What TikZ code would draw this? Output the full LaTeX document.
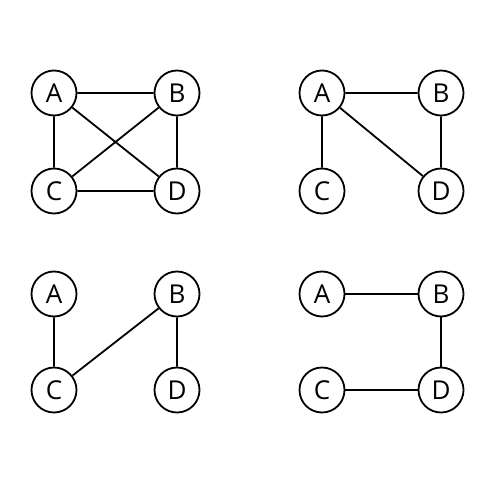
\documentclass[tikz,border=0pt]{standalone}
\usepackage{fontspec}
\setmainfont{Open Sans}
\begin{document}
\begin{tikzpicture}[x=1pt,y=-1pt,
  vtx/.style={circle,draw,line width=1.8pt,minimum size=45pt,inner sep=0pt,font=\fontsize{26}{26}\selectfont,fill=white},
  edge/.style={line width=1.8pt}]
\useasboundingbox (0,0) rectangle (500,500);
% graph 1
\node[vtx] (a1) at (54,93) {A};
\node[vtx] (b1) at (177,93) {B};
\node[vtx] (c1) at (54,191) {C};
\node[vtx] (d1) at (177,191) {D};
\draw[edge] (a1)--(b1) (a1)--(c1) (a1)--(d1) (b1)--(c1) (b1)--(d1) (c1)--(d1);
% graph 2
\node[vtx] (a2) at (322,93) {A};
\node[vtx] (b2) at (441,93) {B};
\node[vtx] (c2) at (322,191) {C};
\node[vtx] (d2) at (441,191) {D};
\draw[edge] (a2)--(b2) (a2)--(c2) (a2)--(d2) (b2)--(d2);
% graph 3
\node[vtx] (a3) at (54,294) {A};
\node[vtx] (b3) at (177,294) {B};
\node[vtx] (c3) at (54,390) {C};
\node[vtx] (d3) at (177,390) {D};
\draw[edge] (a3)--(c3) (c3)--(b3) (b3)--(d3);
% graph 4
\node[vtx] (a4) at (322,294) {A};
\node[vtx] (b4) at (441,294) {B};
\node[vtx] (c4) at (322,390) {C};
\node[vtx] (d4) at (441,390) {D};
\draw[edge] (a4)--(b4) (b4)--(d4) (c4)--(d4);
\end{tikzpicture}
\end{document}
